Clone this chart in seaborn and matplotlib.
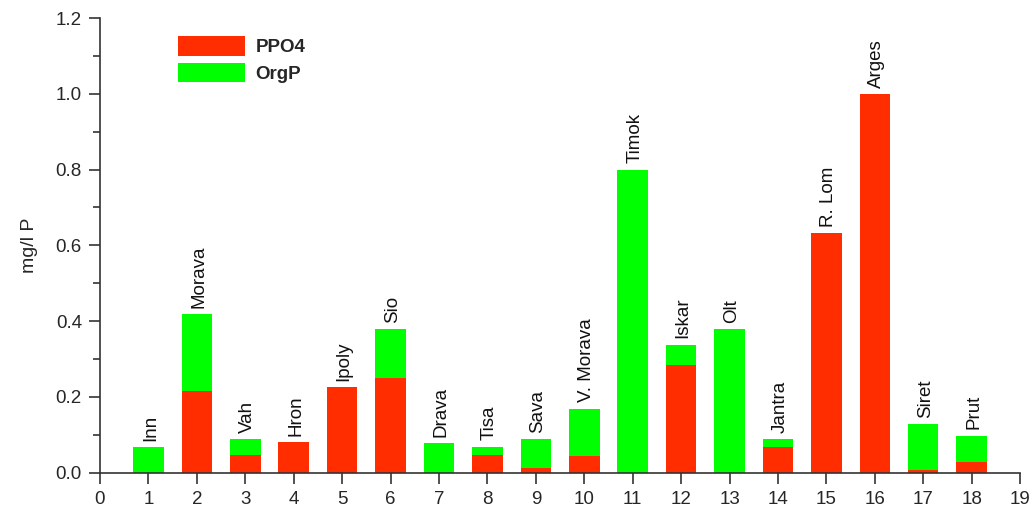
import matplotlib
matplotlib.use("Agg")
import matplotlib.pyplot as plt
from matplotlib.patches import Patch
from matplotlib.ticker import MultipleLocator, FormatStrFormatter
import seaborn as sns
import pandas as pd

rivers = ["Inn", "Morava", "Vah", "Hron", "Ipoly", "Sio", "Drava", "Tisa", "Sava",
          "V. Morava", "Timok", "Iskar", "Olt", "Jantra", "R. Lom", "Arges", "Siret", "Prut"]
positions = list(range(1, 19))
ppo4 = [0.0, 0.215, 0.047, 0.080, 0.225, 0.251, 0.0, 0.048, 0.012,
        0.045, 0.0, 0.285, 0.0, 0.069, 0.633, 1.0, 0.008, 0.027]
total = [0.068, 0.419, 0.088, 0.080, 0.225, 0.378, 0.079, 0.069, 0.088,
         0.169, 0.80, 0.338, 0.378, 0.088, 0.633, 1.0, 0.129, 0.098]

RED = "#FF2D00"
GREEN = "#00FF00"

sns.set_theme(style="white")
plt.rcParams['font.family'] = ['Liberation Sans', 'DejaVu Sans']

df = pd.DataFrame({"pos": positions, "river": rivers, "ppo4": ppo4, "total": total})

fig = plt.figure(figsize=(10.35, 5.08), dpi=100)
ax = fig.add_axes([0.0966, 0.0695, 0.889, 0.895])

sns.barplot(data=df, x="pos", y="total", native_scale=True, color=GREEN,
            saturation=1, width=0.63, ax=ax, edgecolor="none")
sns.barplot(data=df, x="pos", y="ppo4", native_scale=True, color=RED,
            saturation=1, width=0.63, ax=ax, edgecolor="none")

for p, t, name in zip(positions, total, rivers):
    ax.annotate(name, xy=(p, t), xytext=(1.5, 4.5), textcoords="offset points",
                rotation=90, ha="center", va="bottom", fontsize=13.5, color="#111111")

ax.set_xlim(0, 19)
ax.set_ylim(0, 1.2)
ax.xaxis.set_major_locator(MultipleLocator(1))
ax.yaxis.set_major_locator(MultipleLocator(0.2))
ax.yaxis.set_minor_locator(MultipleLocator(0.1))
ax.yaxis.set_major_formatter(FormatStrFormatter("%.1f"))
ax.set_xlabel("")
ax.set_ylabel("mg/l P", fontsize=14, labelpad=13)

for s in ["top", "right"]:
    ax.spines[s].set_visible(False)
for s in ["left", "bottom"]:
    ax.spines[s].set_color("#333333")
    ax.spines[s].set_linewidth(1.2)

ax.tick_params(axis="both", which="major", direction="out", length=8, width=1.2,
               color="#333333", labelsize=13.5, left=True, bottom=True, pad=5)
ax.tick_params(axis="y", which="minor", direction="out", length=5, width=1.2,
               color="#333333", left=True)

handles = [Patch(facecolor=RED, edgecolor="none", label="PPO4"),
           Patch(facecolor=GREEN, edgecolor="none", label="OrgP")]
leg = ax.legend(handles=handles, loc="upper left", bbox_to_anchor=(0.066, 0.998),
                frameon=False, handlelength=3.6, handleheight=1.25, handletextpad=0.55,
                labelspacing=0.35, prop={"weight": "bold", "size": 13.5})

fig.savefig("out.png", dpi=100)
